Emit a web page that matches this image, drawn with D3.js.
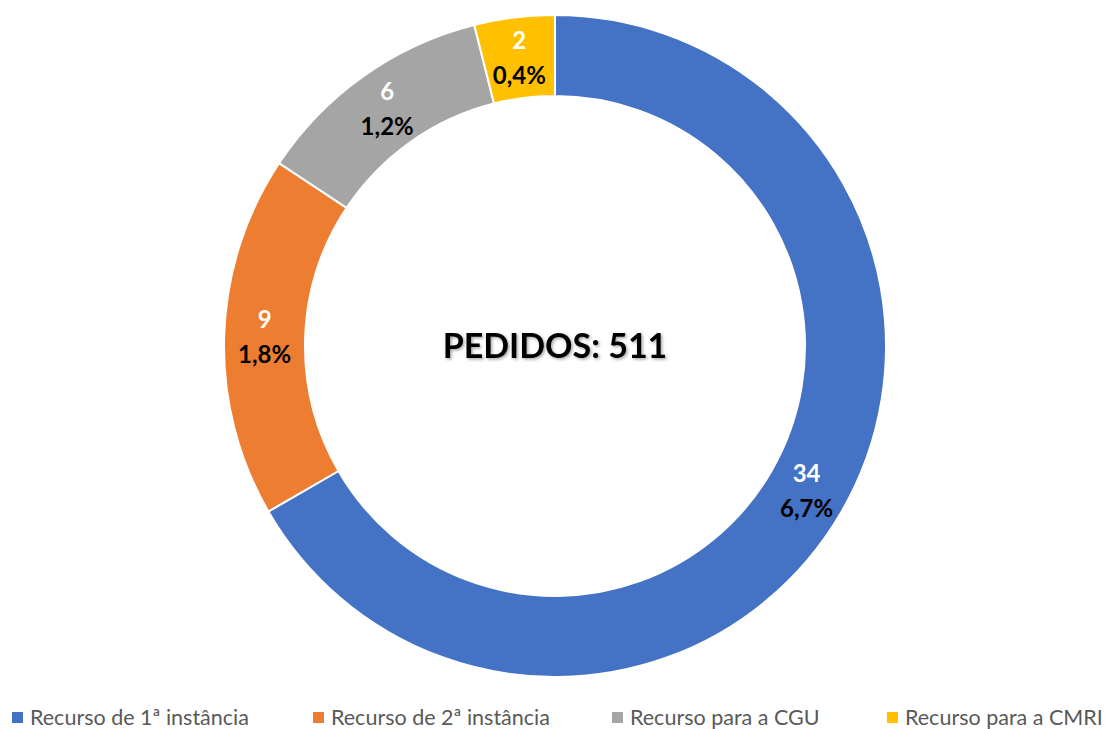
<!DOCTYPE html>
<html>
<head>
<meta charset="utf-8">
<script src="https://cdn.jsdelivr.net/npm/d3@7"></script>
<style>
  body { margin: 0; background: #fff; }
  svg { display: block; font-family: Lato, "Open Sans", sans-serif; }
</style>
</head>
<body>
<div id="container"></div>
<script>
// chart data
const categories = ['Recurso de 1ª instância', 'Recurso de 2ª instância', 'Recurso para a CGU', 'Recurso para a CMRI'];
const counts = [34, 9, 6, 2];
const percentLabels = ['6,7%', '1,8%', '1,2%', '0,4%'];
const colors = ['#4472C4', '#ED7D31', '#A5A5A5', '#FFC000'];
const totalPedidos = 511;

// dimensions
const width = 1108;
const height = 729;
const cx = 555;
const cy = 346;
const outerR = 331;
const innerR = 250;

const svg = d3.select('#container')
              .append('svg')
              .attr('width', width)
              .attr('height', height);

const defs = svg.append('defs');
const shadow = defs.append('filter').attr('id', 'shadow')
                   .attr('x', '-10%').attr('y', '-30%').attr('width', '130%').attr('height', '160%');
shadow.append('feDropShadow')
      .attr('dx', 1.5).attr('dy', 1.5).attr('stdDeviation', 1.5)
      .attr('flood-color', '#000').attr('flood-opacity', 0.35);

const data = categories.map((c, i) => ({ name: c, value: counts[i], pct: percentLabels[i], color: colors[i] }));

const pie = d3.pie().value(d => d.value).sort(null);
const arc = d3.arc().innerRadius(innerR).outerRadius(outerR);

const g = svg.append('g').attr('transform', `translate(${cx},${cy})`);

// slices
g.selectAll('path')
 .data(pie(data))
 .enter()
 .append('path')
 .attr('d', arc)
 .attr('fill', d => d.data.color)
 .attr('stroke', '#fff')
 .attr('stroke-width', 2);

// slice labels
const labels = g.selectAll('g.label')
                .data(pie(data))
                .enter()
                .append('g')
                .attr('class', 'label')
                .attr('transform', d => {
                    const [x, y] = arc.centroid(d);
                    return `translate(${x},${y})`;
                });

labels.append('text')
      .attr('text-anchor', 'middle')
      .attr('y', -9)
      .attr('font-size', 24)
      .attr('font-weight', 'bold')
      .attr('fill', '#fff')
      .text(d => d.data.value);

labels.append('text')
      .attr('text-anchor', 'middle')
      .attr('y', 26)
      .attr('font-size', 24)
      .attr('font-weight', 'bold')
      .attr('fill', '#000')
      .text(d => d.data.pct);

// center title
g.append('text')
 .attr('text-anchor', 'middle')
 .attr('y', 12)
 .attr('font-size', 34)
 .attr('font-weight', 'bold')
 .attr('fill', '#000')
 .attr('filter', 'url(#shadow)')
 .text('PEDIDOS: ' + totalPedidos);

// legend
const legendX = [12, 313, 612, 887];
const legend = svg.selectAll('g.legend')
                  .data(data)
                  .enter()
                  .append('g')
                  .attr('class', 'legend')
                  .attr('transform', (d, i) => `translate(${legendX[i]},718)`);

legend.append('rect')
      .attr('x', 0).attr('y', -6)
      .attr('width', 11).attr('height', 11)
      .attr('fill', d => d.color);

legend.append('text')
      .attr('x', 18)
      .attr('y', 7)
      .attr('font-size', 21.5)
      .attr('fill', '#595959')
      .text(d => d.name);
</script>
</body>
</html>
